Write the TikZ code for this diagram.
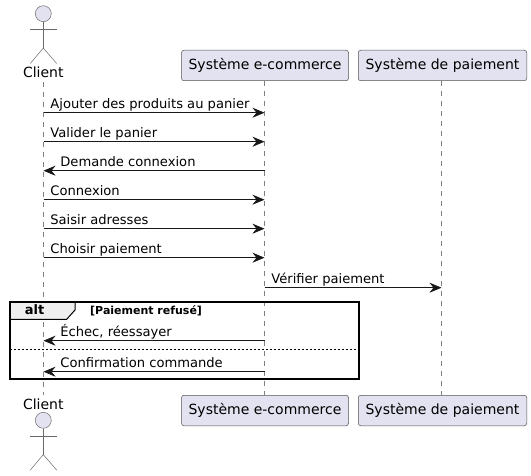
\documentclass[tikz,border=0pt]{standalone}
\usepackage{fontspec}
\setmainfont{DejaVu Sans}
\usetikzlibrary{arrows.meta}
\definecolor{partfill}{HTML}{E2E2F0}
\definecolor{partline}{HTML}{181818}
\definecolor{tabfill}{HTML}{EEEEEE}
\tikzstyle{box}=[rectangle,rounded corners=2.5pt,fill=partfill,draw=partline!75,line width=0.5pt,minimum height=30.5pt,inner sep=0pt,anchor=center,font=\fontsize{14}{16}\selectfont]
\tikzstyle{annot}=[inner sep=0pt,anchor=base west,text=black,font=\fontsize{13.1}{15}\selectfont]
\tikzstyle{actorname}=[inner sep=0pt,anchor=base,text=black,font=\fontsize{14}{16}\selectfont]
\tikzstyle{lifeline}=[draw=partline!55,line width=0.5pt,dash pattern=on 5pt off 5pt]
\tikzstyle{msg}=[draw=partline,line width=0.75pt,-{Stealth[length=12pt,width=10pt,inset=4pt]}]
\tikzstyle{stick}=[draw=partline!65,line width=0.5pt]
\newcommand{\drawactor}[2]
{
  \node[circle,fill=partfill,draw=partline!65,line width=0.5pt,minimum size=16pt,inner sep=0pt](#1) at (43.3,#2){};
  \coordinate (#1hip) at (43.3,#2+34.3);
  \coordinate (#1la) at (30.3,#2+15.6);
  \coordinate (#1ra) at (56.7,#2+15.6);
  \coordinate (#1ll) at (30.3,#2+49.8);
  \coordinate (#1rl) at (56.7,#2+49.8);
  \draw[stick] (#1.south) -- (#1hip);
  \draw[stick] (#1la) -- (#1ra);
  \draw[stick] (#1ll) -- (#1hip) -- (#1rl);
}
\begin{document}
\begin{tikzpicture}[x=1pt,y=-1pt]
	\useasboundingbox (0,0) rectangle (531,476);

	% participants
	\node[actorname](clientT) at (43.3,78){Client};
	\node[actorname](clientB) at (43.3,409){Client};
	\node[box, minimum width=167pt](ecomT) at (265,65.5){Système e-commerce};
	\node[box, minimum width=168.5pt](paieT) at (442.5,65.5){Système de paiement};
	\node[box, minimum width=167pt](ecomB) at (265,410.5){Système e-commerce};
	\node[box, minimum width=168.5pt](paieB) at (442.5,410.5){Système de paiement};

	% lifelines
	\coordinate (clientTop) at (43.5,82);
	\coordinate (clientBot) at (43.5,395);
	\draw[lifeline] (clientTop) -- (clientBot);
	\coordinate (ecomTop) at (264.5,81);
	\coordinate (ecomBot) at (264.5,395);
	\draw[lifeline] (ecomTop) -- (ecomBot);
	\coordinate (paieTop) at (441.5,81);
	\coordinate (paieBot) at (441.5,395);
	\draw[lifeline] (paieTop) -- (paieBot);

	\drawactor{headT}{13.7}
	\drawactor{headB}{420.3}

	% alt frame
	\coordinate (altNW) at (10.3,302.3);
	\coordinate (altSE) at (358.7,379.3);
	\coordinate (tabA) at (75,302.3);
	\coordinate (tabB) at (75,310);
	\coordinate (tabC) at (66.7,319.3);
	\coordinate (tabD) at (10.3,319.3);
	\coordinate (elseW) at (10.3,349.3);
	\coordinate (elseE) at (358.7,349.3);
	\filldraw[fill=tabfill,draw=black,line width=1pt] (altNW) -- (tabA) -- (tabB) -- (tabC) -- (tabD) -- cycle;
	\draw[black,line width=1.8pt] (altNW) rectangle (altSE);
	\draw[black,line width=0.6pt,dash pattern=on 2pt off 2pt] (elseW) -- (elseE);
	\node[inner sep=0pt,anchor=base,font=\fontsize{13}{15}\bfseries\selectfont](altname) at (34.5,315){alt};
	\node[inner sep=0pt,anchor=base west,font=\fontsize{11}{13}\bfseries\selectfont](altguard) at (90,314.3){[Paiement refusé]};

	% messages
	\foreach \name/\src/\dst/\ypos/\txt in {
		m1/43.5/264.5/112.7/{Ajouter des produits au panier},
		m2/43.5/264.5/141.7/{Valider le panier},
		m3/264.5/43.5/170.7/{Demande connexion},
		m4/43.5/264.5/199.7/{Connexion},
		m5/43.5/264.5/228.7/{Saisir adresses},
		m6/43.5/264.5/257.7/{Choisir paiement},
		m7/264.5/441.5/287.7/{Vérifier paiement},
		m8/264.5/43.5/340.7/{Échec, réessayer},
		m9/264.5/43.5/371.7/{Confirmation commande}}
	{
		\coordinate (\name a) at (\src,\ypos);
		\coordinate (\name b) at (\dst,\ypos);
		\draw[msg] (\name a) -- (\name b);
		\pgfmathsetmacro{\labx}{\src<\dst ? \src+6.7 : \dst+16.7}
		\node[annot](\name t) at (\labx,\ypos-4.5){\txt};
	}

\end{tikzpicture}
\end{document}
